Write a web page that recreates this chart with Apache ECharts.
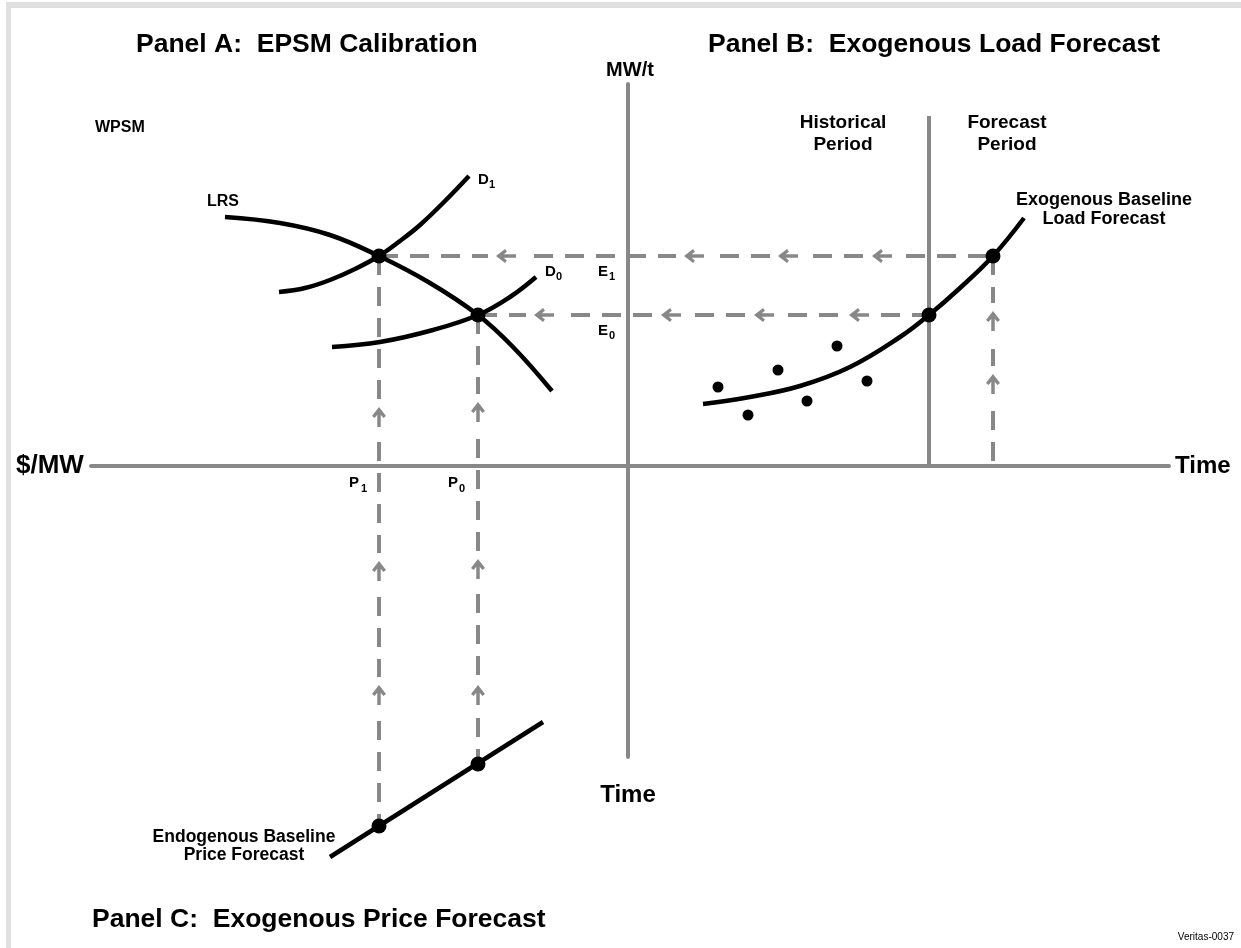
<!DOCTYPE html>
<html>
<head>
<meta charset="utf-8">
<script src="https://cdn.jsdelivr.net/npm/echarts@6/dist/echarts.min.js"></script>
<style>
html,body{margin:0;padding:0;background:#fff;}
#chart{width:1241px;height:948px;}
</style>
</head>
<body>
<div id="chart"></div>
<script>
// ---- Data (conceptual units: origin at the crossing of the two axes) ----
const lrsCurve = [[-40.3,24.9],[-34.8,24.3],[-29.8,23.1],[-24.9,21.0],[-19.8,18.3],[-15.0,15.1],[-11.5,11.9],[-7.6,7.5]];
const d1Curve = [[-34.9,17.4],[-32.3,17.8],[-29.8,18.6],[-27.3,19.7],[-24.9,21.0],[-22.8,22.5],[-20.8,24.1],[-18.3,26.5],[-15.9,29.0]];
const d0Curve = [[-29.6,11.9],[-24.8,12.4],[-19.5,13.6],[-15.0,15.1],[-11.8,16.9],[-9.2,18.9]];
const loadHistory = [[9.0,7.9],[12.0,5.1],[15.0,9.6],[17.9,6.5],[20.9,12.0],[23.9,8.5]];
const loadForecastCurve = [[7.5,6.2],[12.2,6.9],[17.2,8.0],[22.2,9.9],[27.2,12.9],[30.1,15.1],[33.2,17.8],[36.5,21.0],[39.6,24.8]];
const priceForecastLine = [[-29.8,-39.1],[-8.5,-25.6]];
const equilibriumPoints = [[-24.9,21.0],[-15.0,15.1]];   // (P1,E1), (P0,E0)
const loadPoints = [[30.1,15.1],[36.5,21.0]];            // E0, E1 on load forecast
const pricePoints = [[-24.9,-36.0],[-15.0,-29.8]];       // P1, P0 on price forecast
const periodDivider = [[30.1,0],[30.1,35.0]];
const leftArrows = [[-12.2,21.0],[6.6,21.0],[16.0,21.0],[25.4,21.0],[-8.4,15.1],[4.3,15.1],[13.6,15.1],[23.1,15.1]];
const upArrows = [[-24.9,4.9],[-24.9,-10.5],[-24.9,-22.9],[-15.0,5.4],[-15.0,-10.3],[-15.0,-22.9],[36.5,14.5],[36.5,8.2]];
const xRange = [-53.7, 54.1];
const yRange = [-29.1, 38.2];

const GRAY = '#888888';
const FONT = '"Liberation Sans", Arial, Helvetica, sans-serif';
const chart = echarts.init(document.getElementById('chart'), null, {renderer:'canvas'});

function seg(a, b){ return [a, b]; }
const dashStyle = {color: GRAY, width: 4, type: [19, 12]};
const guides = [
  seg(equilibriumPoints[0], loadPoints[1]),
  seg(equilibriumPoints[1], loadPoints[0]),
  seg(equilibriumPoints[0], pricePoints[0]),
  seg(equilibriumPoints[1], pricePoints[1]),
  seg(loadPoints[1], [loadPoints[1][0], 0])
];
const series = [];
series.push({type:'line', data: periodDivider, showSymbol:false, silent:true, clip:false,
  lineStyle:{color:GRAY, width:4}, z:1});
guides.forEach(g => series.push({type:'line', data:g, showSymbol:false, silent:true, clip:false,
  lineStyle: dashStyle, z:2}));
// white gaps in the dashed lines where the arrows sit
series.push({type:'scatter', data:leftArrows, symbol:'rect', symbolSize:[36,8],
  itemStyle:{color:'#fff', opacity:1}, silent:true, clip:false, z:3});
series.push({type:'scatter', data:upArrows, symbol:'rect', symbolSize:[8,36],
  itemStyle:{color:'#fff', opacity:1}, silent:true, clip:false, z:3});
const arrowPath = 'path://M8,0 L16,10 L13,12 L10,8.5 L10,22 L6,22 L6,8.5 L3,12 L0,10 Z';
series.push({type:'scatter', data:leftArrows, symbol:arrowPath, symbolSize:[14,20], symbolRotate:90,
  itemStyle:{color:GRAY, opacity:1}, silent:true, clip:false, z:4});
series.push({type:'scatter', data:upArrows, symbol:arrowPath, symbolSize:[14,20], symbolRotate:0,
  itemStyle:{color:GRAY, opacity:1}, silent:true, clip:false, z:4});
[lrsCurve, d1Curve, d0Curve, loadForecastCurve, priceForecastLine].forEach(c => series.push({
  type:'line', data:c, smooth:0.4, showSymbol:false, silent:true, clip:false,
  lineStyle:{color:'#000', width:4.5}, z:5}));
series.push({type:'scatter', data:loadHistory, symbol:'circle', symbolSize:11,
  itemStyle:{color:'#000', opacity:1}, silent:true, clip:false, z:6});
series.push({type:'scatter', data:equilibriumPoints.concat(loadPoints, pricePoints), symbol:'circle', symbolSize:15,
  itemStyle:{color:'#000', opacity:1}, silent:true, clip:false, z:7});

function txt(text, x, y, size, align, weight){
  return {type:'text', x:x, y:y, silent:true, z:100,
    style:{text:text, fill:'#000', font:(weight||'bold')+' '+size+'px '+FONT,
      textAlign:align||'left', textVerticalAlign:'middle'}};
}
const graphics = [
  {type:'rect', shape:{x:6,y:2,width:1235,height:6}, style:{fill:'#e0e0e0'}, silent:true},
  {type:'rect', shape:{x:6,y:2,width:5,height:946}, style:{fill:'#e0e0e0'}, silent:true},
  txt('Panel A:  EPSM Calibration', 136, 45, 26.5),
  txt('Panel B:  Exogenous Load Forecast', 708, 45, 26.5),
  txt('Panel C:  Exogenous Price Forecast', 92, 920, 26.5),
  txt('MW/t', 630, 70, 20, 'center'),
  txt('WPSM', 95, 128, 16),
  txt('Historical', 843, 123, 19, 'center'),
  txt('Period', 843, 145, 19, 'center'),
  txt('Forecast', 1007, 123, 19, 'center'),
  txt('Period', 1007, 145, 19, 'center'),
  txt('Exogenous Baseline', 1104, 200, 18, 'center'),
  txt('Load Forecast', 1104, 219, 18, 'center'),
  txt('LRS', 207, 202, 16),
  txt('D', 478, 180, 15), txt('1', 489, 185, 11),
  txt('D', 545, 272, 15), txt('0', 556, 277, 11),
  txt('E', 598, 272, 15), txt('1', 609, 277, 11),
  txt('E', 598, 331, 15), txt('0', 609, 336, 11),
  txt('P', 349, 483, 15), txt('1', 361, 489, 11),
  txt('P', 448, 483, 15), txt('0', 459, 489, 11),
  txt('$/MW', 16, 466, 26),
  txt('Time', 1175, 466, 24),
  txt('Time', 628, 795, 24, 'center'),
  txt('Endogenous Baseline', 244, 837, 17.5, 'center'),
  txt('Price Forecast', 244, 855, 17.5, 'center'),
  txt('Veritas-0037', 1234, 937, 10, 'right', 'normal')
];

const axisCommon = {
  type:'value', axisLine:{show:true, onZero:true, lineStyle:{color:GRAY, width:4}},
  axisTick:{show:false}, axisLabel:{show:false}, splitLine:{show:false}
};
chart.setOption({
  animation:false,
  backgroundColor:'#fff',
  grid:{left:91, right:72, top:84, bottom:191, containLabel:false},
  xAxis: Object.assign({}, axisCommon, {min:xRange[0], max:xRange[1]}),
  yAxis: Object.assign({}, axisCommon, {min:yRange[0], max:yRange[1]}),
  series: series,
  graphic: graphics
});
</script>
</body>
</html>
